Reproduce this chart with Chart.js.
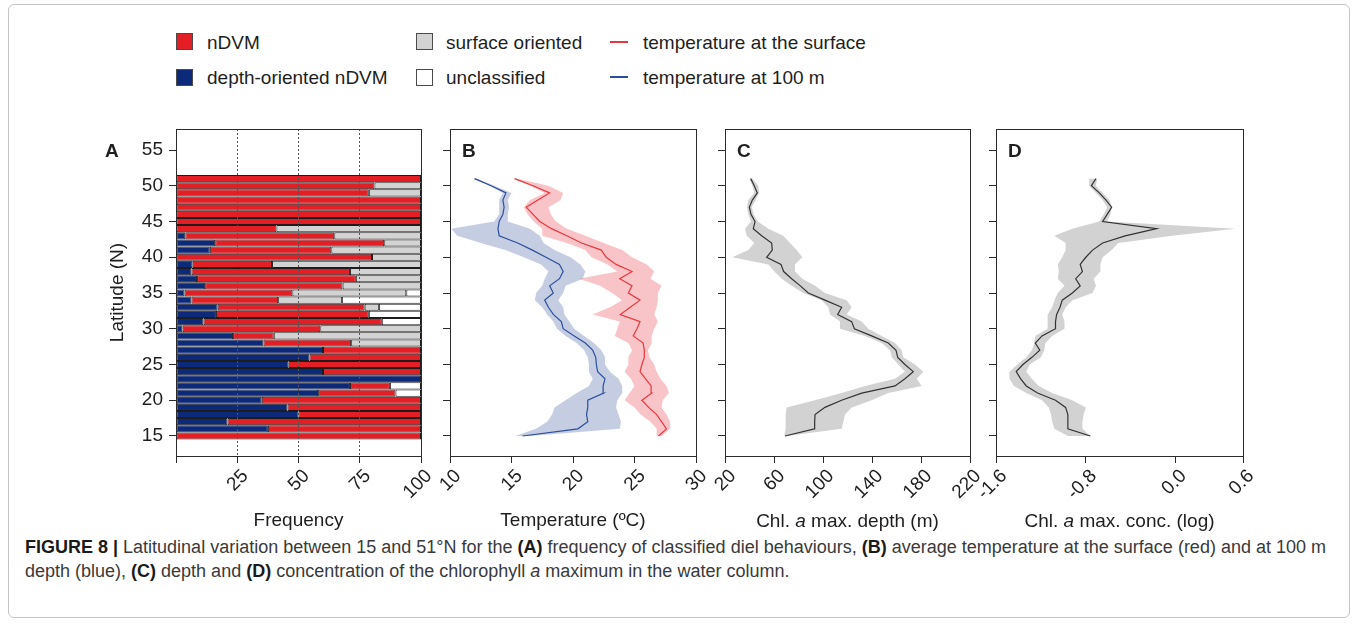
<!DOCTYPE html>
<html>
<head>
<meta charset="utf-8">
<title>Figure 8</title>
<script src="https://cdn.jsdelivr.net/npm/chart.js@4.4.1/dist/chart.umd.min.js"></script>
<style>
  html, body { margin: 0; padding: 0; background: #fff; }
  body { width: 1358px; height: 625px; position: relative; overflow: hidden; font-family: 'Liberation Sans', Arial, sans-serif; color: #1e1e1e; }
  .frame { position: absolute; left: 8px; top: 4px; width: 1342px; height: 614px; border: 1px solid #c4c4c4; border-radius: 6px; box-sizing: border-box; }
  canvas { position: absolute; }
  .txt { position: absolute; font-size: 19px; line-height: 19px; white-space: nowrap; }
  .letter { font-weight: bold; }
  .sw { position: absolute; width: 17px; height: 17px; box-sizing: border-box; border: 1px solid #4a4a4a; }
  .ln { position: absolute; width: 18px; height: 2px; }
  .xtitle { position: absolute; top: 509px; font-size: 19px; line-height: 23px; text-align: center; white-space: nowrap; }
  .caption { position: absolute; left: 25px; top: 535px; font-size: 18px; line-height: 24px; color: #3a3a3a; white-space: nowrap; }
  .caption b { color: #1a1a1a; }
</style>
</head>
<body>
<div class="frame"></div>

<!-- legend -->
<div class="sw" style="left:176px;top:33px;background:#e41e25"></div>
<div class="txt" style="left:207px;top:33px">nDVM</div>
<div class="sw" style="left:176px;top:69px;background:#0d2a7a"></div>
<div class="txt" style="left:207px;top:68px">depth-oriented nDVM</div>
<div class="sw" style="left:416px;top:33px;background:#d3d3d3"></div>
<div class="txt" style="left:446px;top:33px">surface oriented</div>
<div class="sw" style="left:416px;top:69px;background:#ffffff"></div>
<div class="txt" style="left:446px;top:68px">unclassified</div>
<div class="ln" style="left:610px;top:41px;background:#e8383d"></div>
<div class="txt" style="left:643px;top:33px">temperature at the surface</div>
<div class="ln" style="left:610px;top:76px;background:#2c4f9c"></div>
<div class="txt" style="left:643px;top:68px">temperature at 100 m</div>

<canvas id="chartA" width="335" height="422" style="left:106px;top:110px"></canvas>
<canvas id="chartB" width="296" height="422" style="left:420px;top:110px"></canvas>
<canvas id="chartC" width="295" height="422" style="left:695px;top:110px"></canvas>
<canvas id="chartD" width="297" height="422" style="left:966px;top:110px"></canvas>

<div class="txt letter" style="left:105px;top:141px">A</div>
<div class="txt letter" style="left:462px;top:141px">B</div>
<div class="txt letter" style="left:737px;top:141px">C</div>
<div class="txt letter" style="left:1008px;top:141px">D</div>

<div class="xtitle" style="left:725px;width:245px">Chl. <i>a</i> max. depth (m)</div>
<div class="xtitle" style="left:996px;width:247px">Chl. <i>a</i> max. conc. (log)</div>

<div class="caption">
  <b>FIGURE 8 |</b> Latitudinal variation between 15 and 51°N for the <b>(A)</b> frequency of classified diel behaviours, <b>(B)</b> average temperature at the surface (red) and at 100 m<br>
  depth (blue), <b>(C)</b> depth and <b>(D)</b> concentration of the chlorophyll <i>a</i> maximum in the water column.
</div>

<script>
// latitude of each row, south to north
const latitudes = [15, 16, 17, 18, 19, 20, 21, 22, 23, 24, 25, 26, 27, 28, 29, 30, 31, 32, 33,
                   34, 35, 36, 37, 38, 39, 40, 41, 42, 43, 44, 45, 46, 47, 48, 49, 50, 51];

// (A) frequency of behaviours, % per latitude
const freqDepthOriented = [0, 37.5, 21, 50, 45.5, 35, 58, 71, 100, 60, 46, 54.5, 60, 35.7, 23.3, 2.7, 11.2, 16.3, 17,
                           6.3, 3.5, 11.9, 8.6, 6.3, 6.8, 0, 13.8, 16, 3.8, 0, 0, 0, 0, 0, 0, 0, 0];
const freqNDVM = [100, 62.5, 79, 50, 54.5, 65, 31.6, 16.3, 0, 40, 54, 45.5, 40, 35.8, 16.6, 56.2, 72.8, 62.4, 60,
                  35.4, 44, 56.1, 64.8, 64.7, 32.4, 80, 49.6, 69, 60.8, 41, 100, 100, 100, 100, 78.7, 81, 100];
const freqSurface = [0, 0, 0, 0, 0, 0, 0, 0, 0, 0, 0, 0, 0, 28.5, 60.1, 41.1, 0, 0, 5.8,
                     26, 46.5, 32, 26.6, 29, 60.8, 20, 36.6, 15, 35.4, 59, 0, 0, 0, 0, 21.3, 19, 0];
const freqUnclassified = [0, 0, 0, 0, 0, 0, 10.4, 12.7, 0, 0, 0, 0, 0, 0, 0, 0, 16, 21.3, 17.2,
                          32.3, 6, 0, 0, 0, 0, 0, 0, 0, 0, 0, 0, 0, 0, 0, 0, 0, 0];

// (B) temperature, degC
const tempSurface = [26.95, 27.6, 27.2, 26.8, 26.15, 25.6, 26.4, 26.35, 25.9, 25.45, 25.6, 25.8, 25.8, 25.7, 24.9, 25.2, 25.45, 23.85, 24.65,
                     25.45, 24.5, 24.8, 23.8, 24.8, 23.5, 22.7, 22.3, 20.7, 19.5, 18.25, 17.3, 16.75, 16.2, 17.15, 18.1, 16.75, 15.25];
const tempSurfaceLow = [26.8, 26.8, 26.3, 25.5, 25.0, 24.2, 24.6, 25.0, 24.7, 24.2, 24.5, 24.5, 24.8, 24.5, 23.4, 23.6, 23.8, 21.6, 23.0,
                        24.0, 23.2, 22.2, 20.5, 23.6, 22.8, 21.5, 21.0, 19.5, 17.5, 17.5, 16.8, 16.3, 16.0, 16.5, 17.7, 16.5, 15.1];
const tempSurfaceHigh = [27.2, 27.9, 27.9, 27.6, 27.2, 27.3, 27.8, 27.6, 27.1, 26.8, 26.6, 26.2, 26.1, 26.4, 26.4, 26.6, 26.9, 26.6, 26.8,
                         26.9, 26.9, 27.2, 26.3, 26.6, 26.0, 24.8, 24.0, 22.5, 21.0, 19.5, 18.6, 18.2, 18.0, 19.0, 19.2, 18.0, 15.4];
const temp100 = [15.9, 20.4, 21.2, 21.1, 21.2, 21.2, 22.5, 22.45, 22.6, 22.0, 21.9, 21.85, 21.6, 21.0, 20.1, 19.2, 19.05, 18.4, 18.0,
                 17.7, 18.4, 18.1, 18.9, 19.2, 18.9, 17.8, 16.7, 15.5, 14.0, 13.9, 14.0, 14.3, 14.4, 14.3, 14.55, 13.35, 12.0];
const temp100Low = [15.3, 17.0, 17.9, 18.3, 18.5, 19.4, 20.3, 21.3, 21.6, 21.3, 21.3, 21.2, 20.9, 20.3, 19.4, 18.7, 18.4, 17.9, 17.5,
                    16.9, 17.0, 17.5, 17.7, 18.0, 17.4, 16.0, 14.5, 12.5, 10.6, 10.1, 13.6, 14.0, 14.0, 14.0, 14.3, 13.2, 11.8];
const temp100High = [16.5, 23.8, 23.9, 23.7, 23.5, 23.6, 24.0, 24.0, 23.7, 23.0, 22.6, 22.6, 22.3, 21.7, 20.9, 20.1, 19.7, 19.3, 19.2,
                     18.8, 19.2, 19.4, 20.8, 21.0, 20.6, 19.8, 18.5, 17.6, 17.3, 16.5, 14.7, 14.7, 14.8, 14.7, 15.0, 13.6, 12.2];

// (C) chl a maximum depth, m
const chlDepth = [69.0, 92.9, 93.2, 93.5, 101.6, 115.2, 131.6, 158.8, 166.9, 173.7, 166.9, 161.0, 159.6, 153.3, 139.7, 125.6, 123.4, 112.0, 115.2,
                  101.6, 88.0, 81.5, 74.4, 67.9, 65.7, 54.0, 58.6, 58.1, 49.9, 43.1, 44.5, 41.2, 39.9, 42.3, 46.4, 43.9, 41.0];
const chlDepthLow = [68.4, 69.5, 69.5, 69.5, 70.3, 93.5, 115.2, 134.3, 158.8, 166.9, 161.5, 156.1, 154.7, 147.9, 134.3, 113.9, 113.9, 105.7, 104.4,
                     98.9, 83.9, 74.4, 66.3, 60.3, 55.4, 26.0, 39.0, 43.9, 37.7, 36.3, 41.2, 39.0, 38.0, 39.0, 43.9, 42.3, 39.9];
const chlDepthHigh = [70.3, 115.2, 116.6, 118.0, 123.4, 139.7, 153.3, 180.5, 176.5, 181.9, 175.1, 165.6, 164.2, 158.8, 147.9, 137.0, 131.6, 119.3, 123.4,
                      119.3, 101.6, 93.5, 83.1, 77.1, 77.1, 83.1, 78.5, 73.1, 67.6, 55.4, 46.7, 43.4, 41.8, 45.0, 47.8, 47.2, 42.3];

// (D) chl a maximum concentration, log
const chlConc = [-0.76, -0.96, -0.96, -0.96, -0.98, -1.07, -1.23, -1.33, -1.38, -1.42, -1.36, -1.28, -1.21, -1.25, -1.19, -1.07, -1.07, -1.06, -1.03,
                 -1.01, -0.92, -0.85, -0.89, -0.83, -0.85, -0.80, -0.74, -0.65, -0.45, -0.17, -0.65, -0.61, -0.57, -0.62, -0.68, -0.75, -0.71];
const chlConcLow = [-0.96, -1.08, -1.10, -1.11, -1.13, -1.19, -1.33, -1.44, -1.48, -1.48, -1.41, -1.33, -1.28, -1.26, -1.25, -1.14, -1.14, -1.14, -1.10,
                    -1.08, -1.05, -0.99, -1.05, -1.04, -1.05, -1.01, -0.98, -0.98, -1.08, -0.92, -0.68, -0.64, -0.61, -0.65, -0.71, -0.77, -0.77];
const chlConcHigh = [-0.76, -0.83, -0.83, -0.82, -0.80, -0.92, -1.10, -1.22, -1.28, -1.33, -1.30, -1.20, -1.17, -1.16, -1.10, -0.99, -0.99, -1.01, -0.98,
                     -0.92, -0.74, -0.71, -0.73, -0.67, -0.67, -0.65, -0.57, -0.51, -0.03, 0.53, -0.61, -0.58, -0.57, -0.59, -0.65, -0.71, -0.70];

// tick values
const latTicks = [15, 20, 25, 30, 35, 40, 45, 50, 55];
const freqTicks = [0, 25, 50, 75, 100];
const tempTicks = [10, 15, 20, 25, 30];
const depthTicks = [20, 60, 100, 140, 180, 220];
const concTicks = [-1.6, -0.8, 0.0, 0.6];

const RED = '#e41e25';
const NAVY = '#0d2a7a';
const GREY = '#d3d3d3';
const INK = '#2b2b2b';

Chart.defaults.font.family = "'Liberation Sans', Arial, sans-serif";
Chart.defaults.font.size = 19;
Chart.defaults.color = '#1e1e1e';

// R style box round the plot area
const boxFrame = {
  id: 'boxFrame',
  afterDraw(chart) {
    const a = chart.chartArea, ctx = chart.ctx;
    const l = Math.round(a.left), t = Math.round(a.top);
    ctx.save();
    ctx.strokeStyle = INK;
    ctx.lineWidth = 1;
    ctx.strokeRect(l + 0.5, t + 0.5, Math.round(a.right) - l, Math.round(a.bottom) - t);
    ctx.restore();
  }
};

const pts = vals => latitudes.map((lat, i) => ({ x: vals[i], y: lat }));

function latScale(showLabels, width) {
  return {
    type: 'linear', min: 12.2, max: 57.94, offset: false,
    afterBuildTicks: s => { s.ticks = latTicks.map(v => ({ value: v })); },
    afterFit: s => { s.width = width; },
    grid: { drawOnChartArea: false, offset: false, tickLength: 7, tickColor: INK },
    border: { color: INK },
    ticks: { display: showLabels, padding: 6 },
    title: { display: showLabels, text: 'Latitude (N)', padding: 0 }
  };
}

function valueScale(min, max, tickVals, title, fmt) {
  return {
    type: 'linear', min: min, max: max,
    afterBuildTicks: s => { s.ticks = tickVals.map(v => ({ value: v })); },
    afterFit: s => { s.height = 76; },
    grid: { drawOnChartArea: false, tickLength: 7, tickColor: INK },
    border: { color: INK },
    ticks: { autoSkip: false, minRotation: 45, maxRotation: 45, padding: 2, labelOffset: 8, callback: fmt },
    title: { display: !!title, text: title || '', padding: 0 }
  };
}

const baseOptions = {
  responsive: false,
  animation: false,
  devicePixelRatio: 1,
  indexAxis: 'y',
  layout: { padding: { top: 19, right: 20, bottom: 0, left: 0 } },
  plugins: { legend: { display: false }, tooltip: { enabled: false } }
};

// (A) stacked frequency bars, dotted guides at 25/50/75 drawn over the bars
const freqX = valueScale(0, 100, freqTicks, 'Frequency', v => (v === 0 ? '' : String(v)));
freqX.stacked = true;
freqX.grid = {
  drawOnChartArea: true, z: 1, tickLength: 7, tickColor: INK, tickBorderDash: [],
  color: c => (c.tick && [25, 50, 75].includes(c.tick.value) ? '#555' : 'transparent')
};
freqX.border = { color: INK, dash: [2, 2], z: 1 };
const freqY = latScale(true, 70);
freqY.stacked = true;

new Chart(document.getElementById('chartA'), {
  type: 'bar',
  data: {
    datasets: [
      { label: 'depth-oriented nDVM', data: pts(freqDepthOriented), backgroundColor: NAVY },
      { label: 'nDVM', data: pts(freqNDVM), backgroundColor: RED },
      { label: 'surface oriented', data: pts(freqSurface), backgroundColor: GREY },
      { label: 'unclassified', data: pts(freqUnclassified), backgroundColor: '#ffffff' }
    ]
  },
  options: Object.assign({}, baseOptions, {
    datasets: { bar: { categoryPercentage: 1, barPercentage: 1, borderWidth: 1, borderColor: '#1c1c1c',
                       borderSkipped: false, inflateAmount: 0 } },
    scales: { x: freqX, y: freqY }
  }),
  plugins: [boxFrame]
});

// band = lower edge + upper edge filled back to it; higher order is drawn further down
function band(lo, hi, color, order) {
  return [
    { data: pts(lo), borderColor: 'transparent', borderWidth: 0, pointRadius: 0, fill: false, order: order },
    { data: pts(hi), borderColor: 'transparent', borderWidth: 0, pointRadius: 0, fill: '-1', backgroundColor: color, order: order }
  ];
}
function line(vals, color) {
  return { data: pts(vals), borderColor: color, borderWidth: 1.2, pointRadius: 0, fill: false, tension: 0, order: 0 };
}
function lineChart(id, datasets, xScale) {
  return new Chart(document.getElementById(id), {
    type: 'line',
    data: { datasets: datasets },
    options: Object.assign({}, baseOptions, { scales: { x: xScale, y: latScale(false, 30) } }),
    plugins: [boxFrame]
  });
}

// (B) temperature
lineChart('chartB', [
  ...band(temp100Low, temp100High, 'rgba(40,70,150,0.27)', 2),
  ...band(tempSurfaceLow, tempSurfaceHigh, 'rgba(235,60,70,0.3)', 1),
  line(temp100, '#2c4f9c'),
  line(tempSurface, '#e8383d')
], valueScale(10, 30, tempTicks, 'Temperature (ºC)', v => String(v)));

// (C) chl a max depth
lineChart('chartC', [
  ...band(chlDepthLow, chlDepthHigh, '#d2d2d2', 1),
  line(chlDepth, '#333333')
], valueScale(20, 220, depthTicks, null, v => String(v)));

// (D) chl a max concentration
lineChart('chartD', [
  ...band(chlConcLow, chlConcHigh, '#d2d2d2', 1),
  line(chlConc, '#333333')
], valueScale(-1.6, 0.6, concTicks, null, v => v.toFixed(1)));
</script>
</body>
</html>
